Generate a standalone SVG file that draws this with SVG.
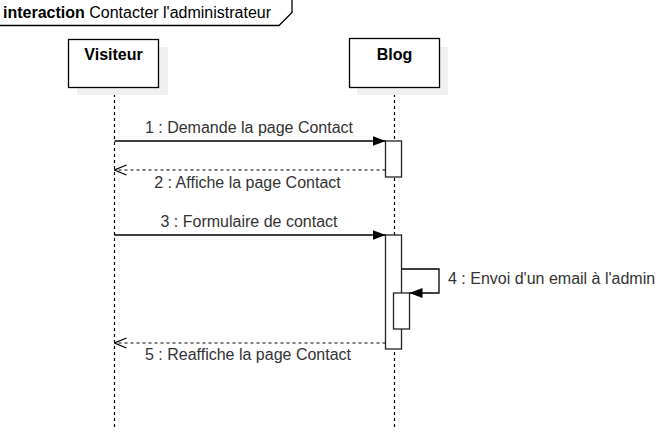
<svg xmlns="http://www.w3.org/2000/svg" width="670" height="446" viewBox="0 0 670 446">
<defs>
<style>
text{font-family:"Liberation Sans",Arial,sans-serif;font-size:16px;}
.lbl{fill:#333333;}
.title{fill:#000;}
.actor{fill:#fff;stroke:#000;stroke-width:1.3;}
.shadow{fill:#f0f0f0;}
.life{stroke:#000;stroke-width:1.2;stroke-dasharray:3 3;fill:none;}
.act{fill:#fff;stroke:#222;stroke-width:1.3;}
.sync{stroke:#000;stroke-width:1.3;fill:none;}
.ret{stroke:#000;stroke-width:1.2;stroke-dasharray:3 3;fill:none;}
</style>
<marker id="filled" viewBox="0 0 13 10" refX="13" refY="5" markerWidth="13" markerHeight="10" markerUnits="userSpaceOnUse" orient="auto">
<path d="M0,0 L13,5 L0,10 Z" fill="#000"/>
</marker>
<marker id="open" viewBox="0 0 14 12" refX="13" refY="6" markerWidth="14" markerHeight="12" markerUnits="userSpaceOnUse" orient="auto">
<path d="M1,1 L13,6 L1,11" fill="none" stroke="#000" stroke-width="1.3"/>
</marker>
</defs>
<rect width="670" height="446" fill="#fff"/>
<g id="frame">
<path d="M-1,25.5 H279 L292,12.5 V-1" fill="none" stroke="#000" stroke-width="1.3"/>
<text x="3" y="18" class="title"><tspan font-weight="bold">interaction</tspan> Contacter l'administrateur</text>
</g>
<g id="lifelines">
<line class="life" x1="114.5" y1="88" x2="114.5" y2="428"/>
<line class="life" x1="394.5" y1="88" x2="394.5" y2="428"/>
</g>
<g id="visiteur">
<rect class="shadow" x="77" y="47" width="91" height="48"/>
<rect class="actor" x="68.5" y="39.5" width="90" height="48"/>
<text x="113.5" y="60" text-anchor="middle" font-weight="bold" fill="#000">Visiteur</text>
</g>
<g id="blog">
<rect class="shadow" x="357" y="47" width="91" height="48"/>
<rect class="actor" x="349.5" y="38.5" width="90" height="49"/>
<text x="394.5" y="60" text-anchor="middle" font-weight="bold" fill="#000">Blog</text>
</g>
<g id="activation1">
<rect class="act" x="385.5" y="141" width="16" height="36"/>
</g>
<g id="activation2">
<rect class="act" x="385.5" y="235" width="16" height="114"/>
</g>
<g id="activation3">
<rect class="act" x="393.5" y="293" width="16" height="36"/>
</g>
<g id="connectors">
<line class="sync" x1="114.5" y1="141" x2="385.5" y2="141" marker-end="url(#filled)"/>
<text class="lbl" x="249" y="133" text-anchor="middle">1 : Demande la page Contact</text>
<line class="ret" x1="385.5" y1="170" x2="114.5" y2="170" marker-end="url(#open)"/>
<text class="lbl" x="247.5" y="188" text-anchor="middle">2 : Affiche la page Contact</text>
<line class="sync" x1="114.5" y1="235" x2="385.5" y2="235" marker-end="url(#filled)"/>
<text class="lbl" x="249" y="227" text-anchor="middle">3 : Formulaire de contact</text>
<path class="sync" d="M401.5,269 H439 V293 H409.5" marker-end="url(#filled)"/>
<text class="lbl" x="448" y="284">4 : Envoi d'un email à l'admin</text>
<line class="ret" x1="385.5" y1="343" x2="114.5" y2="343" marker-end="url(#open)"/>
<text class="lbl" x="248" y="360" text-anchor="middle">5 : Reaffiche la page Contact</text>
</g>
</svg>
